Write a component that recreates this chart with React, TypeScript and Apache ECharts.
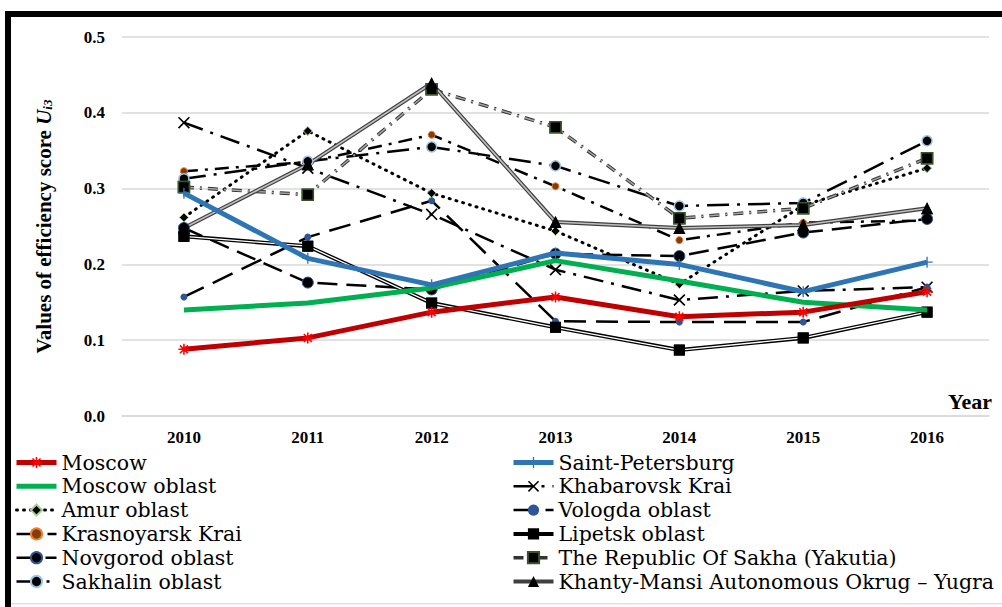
import React, { useEffect, useRef } from "react";
import * as echarts from "echarts";

const years = ["2010", "2011", "2012", "2013", "2014", "2015", "2016"];
const yTicks = [0, 0.1, 0.2, 0.3, 0.4, 0.5];

const moscow = [0.088, 0.103, 0.137, 0.157, 0.131, 0.137, 0.164];
const saintPetersburg = [0.294, 0.208, 0.173, 0.215, 0.2, 0.164, 0.203];
const moscowOblast = [0.14, 0.149, 0.169, 0.205, 0.178, 0.15, 0.14];
const khabarovsk = [0.387, 0.327, 0.266, 0.193, 0.153, 0.165, 0.17];
const amur = [0.262, 0.376, 0.294, 0.244, 0.174, 0.278, 0.327];
const vologda = [0.157, 0.236, 0.284, 0.125, 0.124, 0.124, 0.17];
const krasnoyarsk = [0.323, 0.335, 0.371, 0.303, 0.232, 0.255, 0.258];
const lipetsk = [0.237, 0.224, 0.149, 0.117, 0.087, 0.103, 0.137];
const novgorod = [0.248, 0.176, 0.167, 0.214, 0.211, 0.242, 0.26];
const sakha = [0.302, 0.292, 0.431, 0.381, 0.261, 0.274, 0.34];
const sakhalin = [0.313, 0.336, 0.355, 0.33, 0.277, 0.281, 0.363];
const khantyMansi = [0.248, 0.332, 0.439, 0.256, 0.248, 0.252, 0.274];

const leftNames = ["Moscow", "Moscow oblast", "Amur oblast", "Krasnoyarsk Krai", "Novgorod oblast", "Sakhalin oblast"];
const rightNames = [
  "Saint-Petersburg",
  "Khabarovsk Krai",
  "Vologda oblast",
  "Lipetsk oblast",
  "The Republic Of Sakha (Yakutia)",
  "Khanty-Mansi Autonomous Okrug – Yugra",
];

const SERIF = "Liberation Serif";
const WIDE_SERIF = "DejaVu Serif";

const ASTER =
  "path://M-5,-0.7L5,-0.7L5,0.7L-5,0.7Z M-0.7,-5L0.7,-5L0.7,5L-0.7,5Z M-3.1,-4.1L4.1,3.1L3.1,4.1L-4.1,-3.1Z M3.1,-4.1L4.1,-3.1L-3.1,4.1L-4.1,3.1Z";
const XMARK =
  "path://M-3.3,-4.1L4.1,3.3L3.3,4.1L-4.1,-3.3Z M3.3,-4.1L4.1,-3.3L-3.3,4.1L-4.1,3.3Z";
const PLUS = "path://M-5,-0.6L5,-0.6L5,0.6L-5,0.6Z M-0.6,-5L0.6,-5L0.6,5L-0.6,5Z";

function line(name: string, data: number[], lineStyle: any, symbol: string, symbolSize: number, itemStyle: any, z = 2, showSymbol = true) {
  return {
    name,
    type: "line",
    data,
    symbol,
    symbolSize,
    showSymbol,
    lineStyle,
    itemStyle,
    z,
    emphasis: { disabled: true },
  };
}

export default function App() {
  const ref = useRef<HTMLDivElement>(null);
  useEffect(() => {
    if (!ref.current) return;
    const chart = echarts.init(ref.current, undefined, { renderer: "svg" });
    const series: any[] = [
      line("Khabarovsk Krai", khabarovsk, { color: "#000", width: 2.5, type: [20, 8, 3, 8] }, XMARK, 12, { color: "#000" }),
      line("Amur oblast", amur, { color: "#000", width: 3, type: [1, 6], cap: "round" }, "diamond", 9, {
        color: "#000",
        borderColor: "#A9D18E",
        borderWidth: 1,
      }),
      line("Vologda oblast", vologda, { color: "#000", width: 2.5, type: [22, 10] }, "circle", 7, { color: "#2F5597" }),
      line("Krasnoyarsk Krai", krasnoyarsk, { color: "#000", width: 2.5, type: [14, 7, 3, 7] }, "circle", 7, {
        color: "#843C0C",
        borderColor: "#ED7D31",
        borderWidth: 1,
      }),
      line("Novgorod oblast", novgorod, { color: "#000", width: 2.5, type: [20, 9] }, "circle", 11, {
        color: "#000",
        borderColor: "#2F5597",
        borderWidth: 1,
      }),
      line("Sakhalin oblast", sakhalin, { color: "#000", width: 2.5, type: [22, 8, 3, 8] }, "circle", 10, {
        color: "#000",
        borderColor: "#9DC3E6",
        borderWidth: 1.5,
      }),
      line("The Republic Of Sakha (Yakutia)", sakha, { color: "#333", width: 3.5, type: [10, 6, 2, 6] }, "rect", 11, {
        color: "#000",
        borderColor: "#375623",
        borderWidth: 1.5,
      }),
      {
        type: "line",
        data: sakha,
        symbol: "none",
        lineStyle: { color: "#A6A6A6", width: 1.5, type: [10, 6, 2, 6] },
        z: 2,
        silent: true,
      },
      {
        type: "line",
        data: sakha,
        symbol: "rect",
        symbolSize: 11,
        itemStyle: { color: "#000", borderColor: "#375623", borderWidth: 1.5 },
        lineStyle: { opacity: 0 },
        z: 2,
        silent: true,
      },
      line("Lipetsk oblast", lipetsk, { color: "#000", width: 4 }, "rect", 11, { color: "#000" }),
      { type: "line", data: lipetsk, symbol: "none", lineStyle: { color: "#fff", width: 1.3 }, z: 2, silent: true },
      {
        type: "line",
        data: lipetsk,
        symbol: "rect",
        symbolSize: 11,
        itemStyle: { color: "#000" },
        lineStyle: { opacity: 0 },
        z: 2,
        silent: true,
      },
      line("Khanty-Mansi Autonomous Okrug – Yugra", khantyMansi, { color: "#404040", width: 4 }, "triangle", 12, {
        color: "#000",
      }),
      { type: "line", data: khantyMansi, symbol: "none", lineStyle: { color: "#BFBFBF", width: 1.6 }, z: 2, silent: true },
      {
        type: "line",
        data: khantyMansi,
        symbol: "triangle",
        symbolSize: 12,
        itemStyle: { color: "#000" },
        lineStyle: { opacity: 0 },
        z: 2,
        silent: true,
      },
      line("Moscow oblast", moscowOblast, { color: "#00B050", width: 5 }, "circle", 1, { color: "rgba(0,0,0,0)" }, 3, false),
      line("Saint-Petersburg", saintPetersburg, { color: "#2E75B6", width: 5 }, PLUS, 11, { color: "#2E75B6" }, 3),
      line("Moscow", moscow, { color: "#C00000", width: 5 }, ASTER, 11, { color: "#FF0000" }, 3),
    ];

    const legendBase = {
      orient: "vertical",
      top: 452,
      padding: 0,
      itemWidth: 40,
      itemHeight: 14,
      itemGap: 2.8,
      selectedMode: false,
      lineStyle: { width: "inherit" },
      textStyle: { fontFamily: WIDE_SERIF, fontSize: 20.5, color: "#000", lineHeight: 20 },
    };

    chart.setOption({
      animation: false,
      backgroundColor: "#fff",
      textStyle: { fontFamily: SERIF },
      grid: { left: 122, right: 13, top: 37, bottom: 191 },
      xAxis: {
        type: "category",
        data: years,
        boundaryGap: true,
        name: "Year",
        nameLocation: "end",
        nameGap: 3,
        nameTextStyle: {
          fontFamily: SERIF,
          fontSize: 22,
          fontWeight: "bold",
          color: "#000",
          align: "right",
          verticalAlign: "bottom",
          padding: [0, 0, 4, 0],
        },
        axisLine: { lineStyle: { color: "#D9D9D9", width: 1.5 } },
        axisTick: { show: false },
        axisLabel: { fontFamily: SERIF, fontSize: 17, fontWeight: "bold", color: "#000", margin: 13 },
      },
      yAxis: {
        type: "value",
        min: yTicks[0],
        max: yTicks[yTicks.length - 1],
        interval: 0.1,
        name: "{a|Values of efficiency score }{u|U}{s|i3}",
        nameLocation: "middle",
        nameRotate: 90,
        nameGap: 68,
        nameTextStyle: {
          rich: {
            a: { fontFamily: SERIF, fontSize: 21, fontWeight: "bold", color: "#000" },
            u: { fontFamily: SERIF, fontSize: 21, fontWeight: "bold", fontStyle: "italic", color: "#000" },
            s: {
              fontFamily: SERIF,
              fontSize: 13,
              fontWeight: "bold",
              fontStyle: "italic",
              color: "#000",
              padding: [8, 0, 0, 0],
            },
          },
        },
        axisLine: { show: false },
        axisTick: { show: false },
        splitLine: { lineStyle: { color: "#D9D9D9", width: 1.5 } },
        axisLabel: {
          fontFamily: SERIF,
          fontSize: 17,
          fontWeight: "bold",
          color: "#000",
          margin: 17,
          formatter: (v: number) => v.toFixed(1),
        },
      },
      legend: [
        { ...legendBase, left: 14, data: leftNames },
        { ...legendBase, left: 511, data: rightNames },
      ],
      graphic: [
        { type: "rect", shape: { x: 5, y: 11, width: 997, height: 6 }, style: { fill: "#000" }, silent: true },
        { type: "rect", shape: { x: 5, y: 11, width: 6, height: 596 }, style: { fill: "#000" }, silent: true },
        { type: "rect", shape: { x: 11, y: 603, width: 991, height: 1.5 }, style: { fill: "#E0E0E0" }, silent: true },
      ],
      series,
    });
    return () => chart.dispose();
  }, []);
  return <div ref={ref} style={{ position: "fixed", left: 0, top: 0, width: 1002, height: 607 }} />;
}
